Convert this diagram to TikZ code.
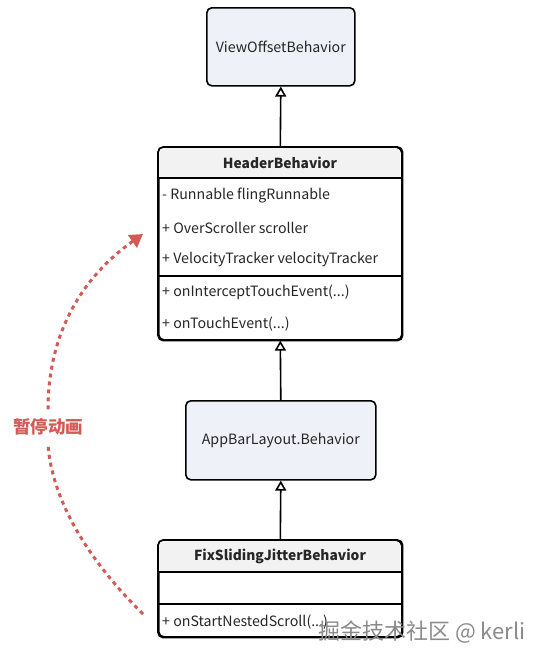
\documentclass[tikz,border=0pt]{standalone}
\usepackage{fontspec}
\setmainfont{Noto Sans CJK SC}
\usetikzlibrary{arrows.meta}

\definecolor{boxfill}{HTML}{EEF1F8}
\definecolor{headfill}{HTML}{F2F2F2}
\definecolor{pausered}{HTML}{D35A55}
\definecolor{marktext}{HTML}{8A8A8A}

\tikzset{
  classbox/.style={draw, line width=1.6pt, rounded corners=5pt, fill=boxfill, inner sep=0pt,
    font=\fontsize{14.2}{16}\selectfont, text=black!85},
  umlbox/.style={draw, line width=1.6pt, rounded corners=5pt, fill=white, inner sep=0pt},
  title/.style={inner sep=0pt, font=\fontsize{13.8}{16}\selectfont\bfseries, text=black!85},
  member/.style={anchor=west, inner sep=0pt, font=\fontsize{14.2}{16}\selectfont, text=black!85},
  extends/.style={-{Triangle[open, length=10pt, width=11pt]}, line width=1.6pt},
  pausepath/.style={pausered, line width=3pt, dash pattern=on 4pt off 4pt},
}

\begin{document}
\begin{tikzpicture}[x=1pt, y=-1pt]
  \useasboundingbox (0,0) rectangle (547,664);

  % plain classes
  \node[classbox, minimum width=148, minimum height=78, anchor=north west] (viewoffset) at (206,7) {ViewOffsetBehavior};
  \node[classbox, minimum width=190, minimum height=79, anchor=north west] (appbar) at (185,400) {AppBarLayout.Behavior};

  % HeaderBehavior
  \node[umlbox, minimum width=243, minimum height=192, anchor=north west] (header) at (158,147) {};
  \fill[headfill, rounded corners=4pt] (159,178) -- (159,148) -- (400,148) [sharp corners] -- (400,178) -- cycle;
  \draw[line width=1.6pt, rounded corners=5pt] (header.north west) rectangle (header.south east);
  \draw[line width=1.6pt] (158,178) -- (401,178);
  \draw[line width=1.6pt] (158,276) -- (401,276);
  \node[title] (headername) at (280,163) {HeaderBehavior};
  \node[member] (fling) at (162,196) {- Runnable flingRunnable};
  \node[member] (scroller) at (162,228) {+ OverScroller scroller};
  \node[member] (velocity) at (162,260) {+ VelocityTracker velocityTracker};
  \node[member] (intercept) at (162,292) {+ onInterceptTouchEvent(...)};
  \node[member] (touch) at (162,324) {+ onTouchEvent(...)};

  % FixSlidingJitterBehavior
  \node[umlbox, minimum width=243, minimum height=96, anchor=north west] (fixjitter) at (158,540) {};
  \fill[headfill, rounded corners=4pt] (159,572) -- (159,541) -- (400,541) [sharp corners] -- (400,572) -- cycle;
  \draw[line width=1.6pt, rounded corners=5pt] (fixjitter.north west) rectangle (fixjitter.south east);
  \draw[line width=1.6pt] (158,572) -- (401,572);
  \draw[line width=1.6pt] (158,604) -- (401,604);
  \node[title] (fixname) at (280,556) {FixSlidingJitterBehavior};
  \node[member] (nested) at (162,622) {+ onStartNestedScroll(...)};

  % inheritance
  \draw[extends] (header.north) -- (viewoffset.south);
  \draw[extends] (appbar.north) -- (header.south);
  \draw[extends] (fixjitter.north) -- (appbar.south);

  % pause animation
  \node[inner sep=0pt, font=\fontsize{17.5}{19}\selectfont\bfseries, text=pausered] (pause) at (48,427) {暂停动画};
  \coordinate (arcstart) at (143,614);
  \coordinate (arcend) at (143,234);
  \draw[pausepath] (arcstart) .. controls (88,560) and (52,500) .. ([yshift=-9]pause.south);
  \draw[pausepath, -{Triangle[length=13pt, width=15pt]}] ([yshift=9]pause.north) .. controls (48,330) and (85,275) .. (arcend);

  % watermark
  \node[anchor=west, inner sep=0pt, font=\fontsize{22}{24}\selectfont, text=marktext] (mark) at (318,632) {掘金技术社区 @ kerli};
\end{tikzpicture}
\end{document}
